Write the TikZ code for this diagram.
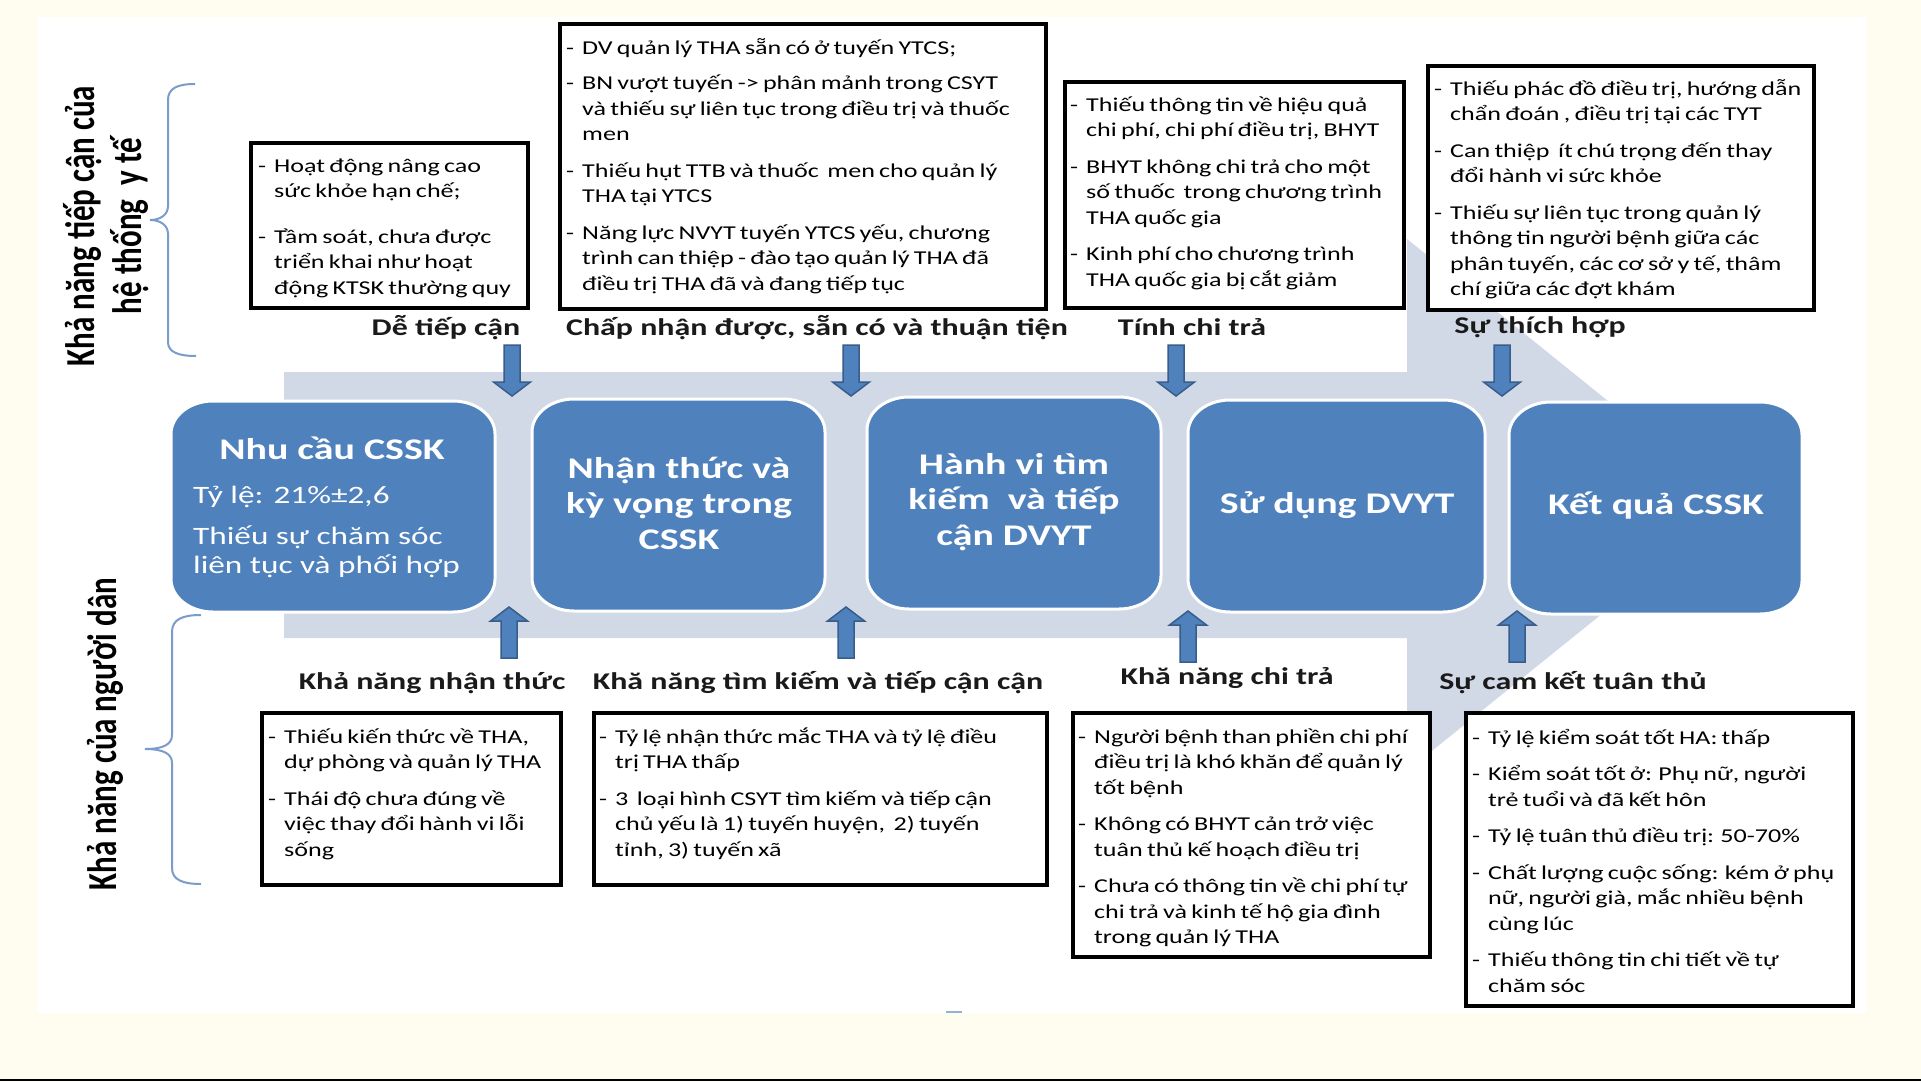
\documentclass[tikz,border=0pt]{standalone}
\usepackage{fontspec}
\setmainfont{Carlito}[FakeStretch=1.33]
\newfontfamily\boxfont{Carlito}[FakeStretch=1.33,WordSpace=0.72]
\newfontfamily\rotfont{Carlito}[FakeStretch=0.752]
\usetikzlibrary{calc}
\definecolor{cream}{HTML}{FEFDF0}
\definecolor{bandcol}{HTML}{D1D9E7}
\definecolor{stagecol}{HTML}{4F81BD}
\definecolor{arrline}{HTML}{385D8A}
\definecolor{bracecol}{HTML}{7A9CCB}
\definecolor{labcol}{HTML}{1A1A1A}
\newcommand\dashitem{\makebox[16pt][l]{-}}
\newcommand\contline{\hspace*{16pt}}
\newcommand\firststrut{\rule{0pt}{20pt}}
\newcommand\ellbox[1]{%
\filldraw[stagefill] ([xshift=42pt]#1.north west) -- ([xshift=-42pt]#1.north east)
 arc[start angle=90,end angle=0,x radius=42pt,y radius=33pt]
 -- ([yshift=33pt]#1.south east)
 arc[start angle=0,end angle=-90,x radius=42pt,y radius=33pt]
 -- ([xshift=42pt]#1.south west)
 arc[start angle=-90,end angle=-180,x radius=42pt,y radius=33pt]
 -- ([yshift=-33pt]#1.north west)
 arc[start angle=180,end angle=90,x radius=42pt,y radius=33pt] -- cycle;}
\begin{document}
\begin{tikzpicture}[x=1pt,y=1pt,
  stagefill/.style={fill=stagecol,draw=white,line width=3},
  stagenode/.style={inner sep=0pt,outer sep=0pt},
  stagetitle/.style={text=white,align=center,font=\bfseries\fontsize{30}{35.5}\selectfont},
  stagebody/.style={text=white,align=left,anchor=north west,inner sep=0pt,font=\fontsize{25}{29}\selectfont},
  tbox/.style={draw=black,line width=3.5,fill=white,inner sep=0pt},
  ttext/.style={anchor=north west,inner sep=0pt,align=left,text=black,font=\boxfont\fontsize{19.6}{25.5}\selectfont},
  lab/.style={text=labcol,font=\bfseries\fontsize{24}{28}\selectfont,inner sep=0pt},
  rotlab/.style={rotate=90,align=center,text=black,inner sep=0pt,font=\rotfont\bfseries\fontsize{41.2}{47}\selectfont},
  smallarr/.style={fill=stagecol,draw=arrline,line width=1.5},
  bracest/.style={draw=bracecol,line width=2},
  darr/.pic={\path[smallarr] (-8,0) -- (-8,-37) -- (-18.5,-37) -- (0,-51) -- (18.5,-37) -- (8,-37) -- (8,0) -- cycle;},
  uarr/.pic={\path[smallarr] (-8,0) -- (-8,37) -- (-18.5,37) -- (0,51) -- (18.5,37) -- (8,37) -- (8,0) -- cycle;}
]
\useasboundingbox (0,0) rectangle (1921,-1081);
\fill[cream] (0,0) rectangle (1921,-1081);
\fill[white] (38,-17) rectangle (1866,-1013);
\fill[black] (0,-1078.5) rectangle (1921,-1081);
\draw[color=bracecol!80,line width=2] (946,-1012) -- (962,-1012);

% big band arrow
\fill[bandcol] (284,-372) -- (1407,-372) -- (1407,-239) -- (1737,-505) -- (1407,-771) -- (1407,-638) -- (284,-638) -- cycle;

% stage boxes
\node[stagenode,minimum width=324,minimum height=211] (b1) at (333,-506.5) {};
\node[stagenode,minimum width=293,minimum height=212] (b2) at (678.5,-505) {};
\node[stagenode,minimum width=294,minimum height=212] (b3) at (1014,-503) {};
\node[stagenode,minimum width=297,minimum height=212] (b4) at (1336.5,-506) {};
\node[stagenode,minimum width=293,minimum height=212] (b5) at (1655.5,-508) {};
\ellbox{b1}\ellbox{b2}\ellbox{b3}\ellbox{b4}\ellbox{b5}

\node[stagetitle] (b1t) at (332,-448) {Nhu cầu CSSK};
\node[stagebody] (b1b) at (193,-478) {\rule{0pt}{25pt}Tỷ lệ: 21\%±2,6\\[12pt]Thiếu sự chăm sóc\\liên tục và phối hợp};
\node[stagetitle] (b2t) at (679,-503) {Nhận thức và\\kỳ vọng trong\\CSSK};
\node[stagetitle] (b3t) at (1014,-502) {Hành vi tìm\\kiếm\ \ và tiếp\\cận DVYT};
\node[stagetitle] (b4t) at (1337,-505) {Sử dụng DVYT};
\node[stagetitle] (b5t) at (1656,-506) {Kết quả CSSK};

% small arrows
\pic (ad1) at (512,-345) {darr};
\pic (ad2) at (851,-345) {darr};
\pic (ad3) at (1176,-345) {darr};
\pic (ad4) at (1502,-345) {darr};
\pic (au1) at (509,-658) {uarr};
\pic (au2) at (846,-658) {uarr};
\pic (au3) at (1188,-662) {uarr};
\pic (au4) at (1517,-662) {uarr};

% top text boxes
\node[tbox,minimum width=277,minimum height=165] (t1) at (389.5,-225.5) {};
\node[tbox,minimum width=486,minimum height=285] (t2) at (803,-166.5) {};
\node[tbox,minimum width=339,minimum height=226] (t3) at (1234.5,-195) {};
\node[tbox,minimum width=386,minimum height=244] (t4) at (1621,-188) {};
% bottom text boxes
\node[tbox,minimum width=299,minimum height=172] (s1) at (411.5,-799) {};
\node[tbox,minimum width=453,minimum height=172] (s2) at (820.5,-799) {};
\node[tbox,minimum width=357,minimum height=244] (s3) at (1251.5,-835) {};
\node[tbox,minimum width=387,minimum height=293] (s4) at (1659.5,-859.5) {};

\node[ttext] (t1x) at (258,-152) {\dashitem\firststrut Hoạt động nâng cao\\
\contline sức khỏe hạn chế;\\[20pt]
\dashitem Tầm soát, chưa được\\
\contline triển khai như hoạt\\
\contline động KTSK thường quy};

\node[ttext] (t2x) at (566,-34) {\dashitem\firststrut DV quản lý THA sẵn có ở tuyến YTCS;\\[10pt]
\dashitem BN vượt tuyến -> phân mảnh trong CSYT\\
\contline và thiếu sự liên tục trong điều trị và thuốc\\
\contline men\\[11pt]
\dashitem Thiếu hụt TTB và thuốc\ \ men cho quản lý\\
\contline THA tại YTCS\\[11pt]
\dashitem Năng lực NVYT tuyến YTCS yếu, chương\\
\contline trình can thiệp - đào tạo quản lý THA đã\\
\contline điều trị THA đã và đang tiếp tục};

\node[ttext] (t3x) at (1070,-91) {\dashitem\firststrut Thiếu thông tin về hiệu quả\\
\contline chi phí, chi phí điều trị, BHYT\\[11pt]
\dashitem BHYT không chi trả cho một\\
\contline số thuốc\ \ trong chương trình\\
\contline THA quốc gia\\[11pt]
\dashitem Kinh phí cho chương trình\\
\contline THA quốc gia bị cắt giảm};

\node[ttext] (t4x) at (1434,-75) {\dashitem\firststrut Thiếu phác đồ điều trị, hướng dẫn\\
\contline chẩn đoán , điều trị tại các TYT\\[11pt]
\dashitem Can thiệp\ \ ít chú trọng đến thay\\
\contline đổi hành vi sức khỏe\\[11pt]
\dashitem Thiếu sự liên tục trong quản lý\\
\contline thông tin người bệnh giữa các\\
\contline phân tuyến, các cơ sở y tế, thâm\\
\contline chí giữa các đợt khám};

\node[ttext] (s1x) at (268,-723) {\dashitem\firststrut Thiếu kiến thức về THA,\\
\contline dự phòng và quản lý THA\\[11pt]
\dashitem Thái độ chưa đúng về\\
\contline việc thay đổi hành vi lỗi\\
\contline sống};

\node[ttext] (s2x) at (599,-723) {\dashitem\firststrut Tỷ lệ nhận thức mắc THA và tỷ lệ điều\\
\contline trị THA thấp\\[11pt]
\dashitem 3\ \ loại hình CSYT tìm kiếm và tiếp cận\\
\contline chủ yếu là 1) tuyến huyện,\ \ 2) tuyến\\
\contline tỉnh, 3) tuyến xã};

\node[ttext] (s3x) at (1078,-723) {\dashitem\firststrut Người bệnh than phiền chi phí\\
\contline điều trị là khó khăn để quản lý\\
\contline tốt bệnh\\[11pt]
\dashitem Không có BHYT cản trở việc\\
\contline tuân thủ kế hoạch điều trị\\[11pt]
\dashitem Chưa có thông tin về chi phí tự\\
\contline chi trả và kinh tế hộ gia đình\\
\contline trong quản lý THA};

\node[ttext] (s4x) at (1472,-724) {\dashitem\firststrut Tỷ lệ kiểm soát tốt HA: thấp\\[11pt]
\dashitem Kiểm soát tốt ở: Phụ nữ, người\\
\contline trẻ tuổi và đã kết hôn\\[11pt]
\dashitem Tỷ lệ tuân thủ điều trị: 50-70\%\\[11pt]
\dashitem Chất lượng cuộc sống: kém ở phụ\\
\contline nữ, người già, mắc nhiều bệnh\\
\contline cùng lúc\\[11pt]
\dashitem Thiếu thông tin chi tiết về tự\\
\contline chăm sóc};

% labels
\node[lab] (l1) at (446,-328) {Dễ tiếp cận};
\node[lab] (l2) at (817,-328) {Chấp nhận được, sẵn có và thuận tiện};
\node[lab] (l3) at (1192,-327) {Tính chi trả};
\node[lab] (l4) at (1540,-327) {Sự thích hợp};
\node[lab] (m1) at (432,-683) {Khả năng nhận thức};
\node[lab] (m2) at (818,-683) {Khă năng tìm kiếm và tiếp cận cận};
\node[lab] (m3) at (1227,-678) {Khă năng chi trả};
\node[lab] (m4) at (1573,-683) {Sự cam kết tuân thủ};

% braces
\draw[bracest] (195,-84) .. controls (178,-84) and (168,-88) .. (168,-100) -- (168,-206)
  .. controls (168,-215) and (160,-220) .. (150,-220)
  .. controls (160,-220) and (168,-225) .. (168,-234) -- (168,-342)
  .. controls (168,-352) and (178,-356) .. (196,-356);
\draw[bracest] (201,-615) .. controls (183,-615) and (172,-619) .. (172,-632) -- (172,-735)
  .. controls (172,-744) and (164,-749) .. (145,-749)
  .. controls (164,-749) and (172,-754) .. (172,-763) -- (172,-868)
  .. controls (172,-880) and (183,-884) .. (201,-884);

% rotated labels
\node[rotlab] (rsys) at (106,-226) {Khả năng tiếp cận của\\hệ thống\ \ y tế};
\node[rotlab] (rpeo) at (105,-734) {Khả năng của người dân};
\end{tikzpicture}
\end{document}
